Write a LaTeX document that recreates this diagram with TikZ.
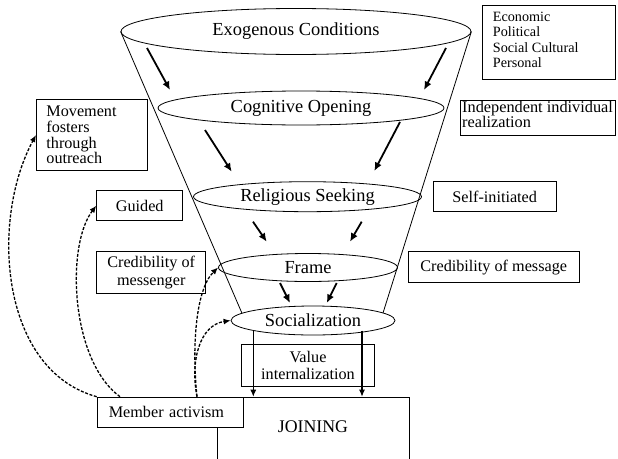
\documentclass[tikz,border=0pt]{standalone}
\usepackage{fontspec}
\setmainfont{Liberation Serif}
\usetikzlibrary{shapes.geometric,arrows.meta,calc}
\begin{document}
\begin{tikzpicture}[x=1pt,y=-1pt,
  ell/.style={draw, ellipse, line width=0.8pt, inner sep=0pt, font=\fontsize{18.4}{20}\selectfont},
  box/.style={draw, line width=0.8pt, inner sep=0pt, font=\fontsize{16.2}{17.7}\selectfont},
  plain/.style={inner sep=0pt, font=\fontsize{16.2}{17.7}\selectfont},
  farrow/.style={line width=1.8pt, -{Latex[length=8.5pt,width=7.5pt]}},
  darrow/.style={line width=1.3pt, dash pattern=on 3pt off 1.6pt, -{Latex[length=7pt,width=6pt]}},
  varrow/.style={line width=1.1pt, -{Latex[length=7pt,width=6pt]}},
  funnel/.style={line width=0.8pt}]
\useasboundingbox (0,0) rectangle (618,458);
\fill[white] (0,0) rectangle (618,458);
\clip (0,0) rectangle (618,458);

% funnel ellipses
\node[ell, minimum width=350, minimum height=46] (ex) at (296,31.5) {\raisebox{2pt}{Exogenous Conditions}};
\node[ell, minimum width=286, minimum height=34] (co) at (301,108) {Cognitive Opening};
\node[ell, minimum width=228, minimum height=30] (rs) at (307.5,196.7) {Religious Seeking};
\node[ell, minimum width=179, minimum height=28] (fr) at (308,267.5) {Frame};
\node[ell, minimum width=164, minimum height=29] (so) at (313,320.5) {Socialization};

% funnel sides
\coordinate (fl) at (242,313.3);
\coordinate (fri) at (383,313);
\draw[funnel] (ex.west) -- (fl);
\draw[funnel] (ex.east) -- (fri);

% funnel arrows
\coordinate (c1a) at (147,48);    \coordinate (c1b) at (170,90);
\coordinate (c2a) at (446,48);    \coordinate (c2b) at (424,90);
\coordinate (c3a) at (205,130);   \coordinate (c3b) at (231.7,171.7);
\coordinate (c4a) at (400,122);   \coordinate (c4b) at (374.3,171);
\coordinate (c5a) at (253,221.7); \coordinate (c5b) at (266.7,241.7);
\coordinate (c6a) at (361.7,221.7); \coordinate (c6b) at (350,241.7);
\coordinate (c7a) at (280,283);   \coordinate (c7b) at (290,303);
\coordinate (c8a) at (336.7,283); \coordinate (c8b) at (326.7,303);
\foreach \i in {1,...,8} {\draw[farrow] (c\i a) -- (c\i b);}

% right boxes
\node[box, anchor=north west, minimum width=133, minimum height=74] (eco) at (481.7,5) {};
\node[anchor=north west, align=left, inner sep=0pt, font=\fontsize{14.2}{15.5}\selectfont] (ecot) at (492.7,11.8)
  {Economic\\Political\\Social Cultural\\Personal};
\node[box, anchor=north west, minimum width=155, minimum height=35] (ind) at (460,100) {};
\node[plain, anchor=north west, align=left, font=\fontsize{16.3}{15}\selectfont] (indt) at (462,100.8)
  {Independent individual\\realization};
\node[box, minimum width=122.7, minimum height=30] (si) at (494.7,196.7) {Self-initiated};
\node[box, minimum width=170.7, minimum height=31] (cmsg) at (493.7,267.2) {Credibility of message};

% left boxes
\node[box, anchor=north west, text width=90.7, inner xsep=10pt, align=left, minimum height=70.7,
  font=\fontsize{16.2}{15.7}\selectfont] (mv) at (36,99.3) {Movement\\fosters\\through\\outreach};
\node[box, minimum width=86, minimum height=30] (gd) at (139.7,205.7) {Guided};
\node[box, minimum width=109, minimum height=41.6, align=center] (cm) at (151.2,272.5) {Credibility of\\messenger};

% bottom
\node[box, minimum width=132.6, minimum height=42.7, align=center, font=\fontsize{16.2}{17.3}\selectfont] (vi) at (308,365.3) {Value\\internalization};
\node[box, anchor=north west, minimum width=192, minimum height=80] (jn) at (217.3,396.7) {};
\node[plain, font=\fontsize{17.8}{20}\selectfont] (jnt) at (313,426.7) {JOINING};
\node[box, fill=white, anchor=north west, text width=122.6, inner xsep=11.7pt, align=left, minimum height=30.6] (ma) at (96.7,396.7) {Member activism};

% socialization -> joining
\coordinate (v1a) at (253.3,331);
\coordinate (v1b) at (v1a |- jn.north);
\coordinate (v2a) at (362,330.5);
\coordinate (v2b) at (v2a |- jn.north);
\draw[varrow] (v1a) -- (v1b);
\draw[varrow] (v2a) -- (v2b);

% dashed feedback arrows
\coordinate (mg) at ([xshift=23.3pt]ma.north west);
\coordinate (mf) at ([xshift=100.3pt]ma.north west);
\draw[darrow] (ma.north west) .. controls (0,370) and (-10,220) .. (mv.west);
\draw[darrow] (mg) .. controls (70,360) and (66,245) .. (gd.west);
\draw[darrow] (mf) .. controls (192,350) and (195,290) .. (fr.west);
\draw[darrow] (mf) .. controls (190,360) and (200,325) .. (so.west);
\end{tikzpicture}
\end{document}
